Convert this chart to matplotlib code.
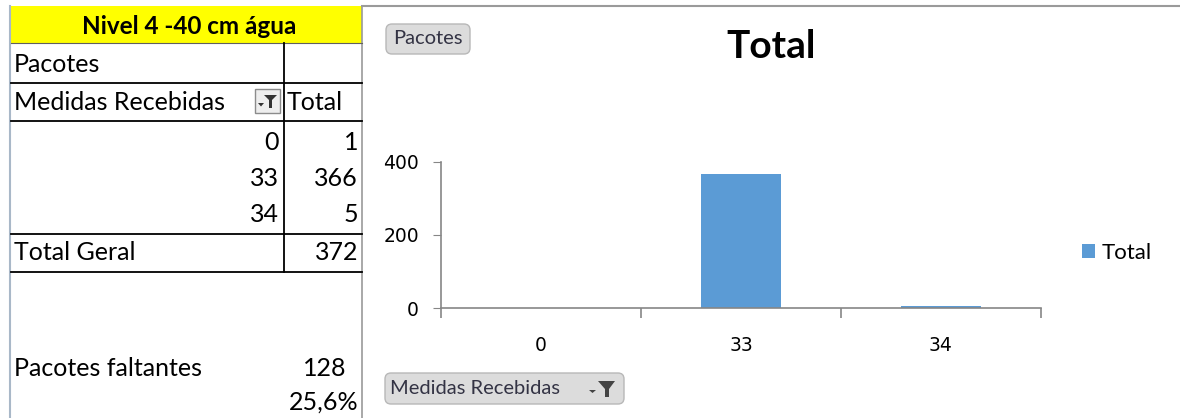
import matplotlib.pyplot as plt
from matplotlib.patches import Rectangle, FancyBboxPatch, Polygon
from matplotlib.lines import Line2D

# dados da tabela dinamica
medidas = ['0', '33', '34']
totais = [1, 366, 5]
total_geral = 372
faltantes = 128
pct_faltantes = 25.6

plt.rcParams['font.family'] = ['Lato', 'DejaVu Sans']

W, H = 1180, 418
fig = plt.figure(figsize=(W / 100, H / 100), dpi=100)

# eixo de fundo em pixels (tabela, botoes)
bg = fig.add_axes([0, 0, 1, 1])
bg.set_xlim(0, W)
bg.set_ylim(H, 0)
bg.axis('off')

# cabecalho amarelo
bg.add_patch(Rectangle((11, 6), 351, 37, facecolor='#ffff00', edgecolor='none'))
bg.text(189, 27, 'Nivel 4 -40 cm água', ha='center', va='center',
        fontsize=17.5, fontweight='bold', color='black')

# bordas da tabela
bg.add_line(Line2D([10, 10], [6, H], color='#a9b8c8', lw=1.5))
bg.add_line(Line2D([362, 362], [6, H], color='#9a9a9a', lw=1.2))
bg.add_line(Line2D([11, 362], [43, 43], color='#606060', lw=0.8))
for y in [83, 121, 234, 272]:
    bg.add_line(Line2D([11, 362], [y, y], color='black', lw=1.3))
bg.add_line(Line2D([284, 284], [43, 272], color='black', lw=1.3))

fs = 18
bg.text(14, 65, 'Pacotes', ha='left', va='center', fontsize=fs)
bg.text(14, 102, 'Medidas Recebidas', ha='left', va='center', fontsize=fs)
bg.text(287, 102, 'Total', ha='left', va='center', fontsize=fs)

# icone de filtro na celula
bg.add_patch(Rectangle((255, 89), 25, 24, facecolor='#eeeeee', edgecolor='#8c8c8c', lw=1))
bg.add_patch(Polygon([[264, 95], [277, 95], [272, 100], [272, 108], [269, 108], [269, 100]],
                     closed=True, facecolor='#333333', edgecolor='none'))
bg.add_patch(Polygon([[258, 103], [264, 103], [261, 106.5]], closed=True,
                     facecolor='#333333', edgecolor='none'))

row_y = [142, 179, 214]
for yy, m, t in zip(row_y, medidas, totais):
    bg.text(279, yy, m, ha='right', va='center', fontsize=fs)
    bg.text(358, yy, str(t), ha='right', va='center', fontsize=fs)

bg.text(14, 253, 'Total Geral', ha='left', va='center', fontsize=fs)
bg.text(358, 253, str(total_geral), ha='right', va='center', fontsize=fs)

bg.text(14, 368, 'Pacotes faltantes', ha='left', va='center', fontsize=fs)
bg.text(346, 368, str(faltantes), ha='right', va='center', fontsize=fs)
bg.text(358, 402, ('%.1f%%' % pct_faltantes).replace('.', ','), ha='right', va='center', fontsize=fs)

# borda superior do grafico
bg.add_line(Line2D([362, W], [6, 6], color='#9a9a9a', lw=1.5))

# botoes do grafico dinamico
bg.add_patch(FancyBboxPatch((386, 24), 84, 30, boxstyle='round,pad=0,rounding_size=6',
                            facecolor='#dcdcdc', edgecolor='#b8b8b8', lw=1))
bg.text(428, 39, 'Pacotes', ha='center', va='center', fontsize=14.5, color='#333344')
bg.add_patch(FancyBboxPatch((385, 373), 239, 31, boxstyle='round,pad=0,rounding_size=6',
                            facecolor='#dcdcdc', edgecolor='#b8b8b8', lw=1))
bg.text(390, 389, 'Medidas Recebidas', ha='left', va='center', fontsize=14.5, color='#333344')
bg.add_patch(Polygon([[598, 381], [615, 381], [609, 389], [609, 397], [605, 397], [605, 389]],
                     closed=True, facecolor='#444444', edgecolor='none'))
bg.add_patch(Polygon([[589, 390], [596, 390], [592.5, 393]], closed=True,
                     facecolor='#444444', edgecolor='none'))

# titulo
bg.text(771, 46, 'Total', ha='center', va='center', fontsize=28, fontweight='bold')

# grafico de barras
ax = fig.add_axes([441 / W, 1 - 308 / H, 600 / W, 146 / H])
bars = ax.bar(medidas, totais, width=0.4, color='#5b9bd5', label='Total')
ax.set_xlim(-0.5, 2.5)
ax.set_ylim(0, 400)
ax.set_yticks([0, 200, 400])
for s in ['top', 'right']:
    ax.spines[s].set_visible(False)
for s in ['left', 'bottom']:
    ax.spines[s].set_color('#868686')
    ax.spines[s].set_linewidth(1.2)
ax.tick_params(axis='y', length=6, color='#868686', pad=10, labelsize=13.5,
               labelfontfamily='DejaVu Sans')
ax.tick_params(axis='x', length=0, pad=20, labelsize=13.5, labelfontfamily='DejaVu Sans')
ax.set_xticks([-0.5, 0.5, 1.5, 2.5], minor=True)
ax.tick_params(axis='x', which='minor', length=7, color='#868686', width=1.2)
ax.patch.set_alpha(0)

ax.legend(loc='center left', bbox_to_anchor=(1062 / W, 1 - 253 / H), bbox_transform=fig.transFigure,
          frameon=False, fontsize=16, handlelength=0.6, handleheight=0.6, handletextpad=0.3)

fig.savefig('out.png', dpi=100)
